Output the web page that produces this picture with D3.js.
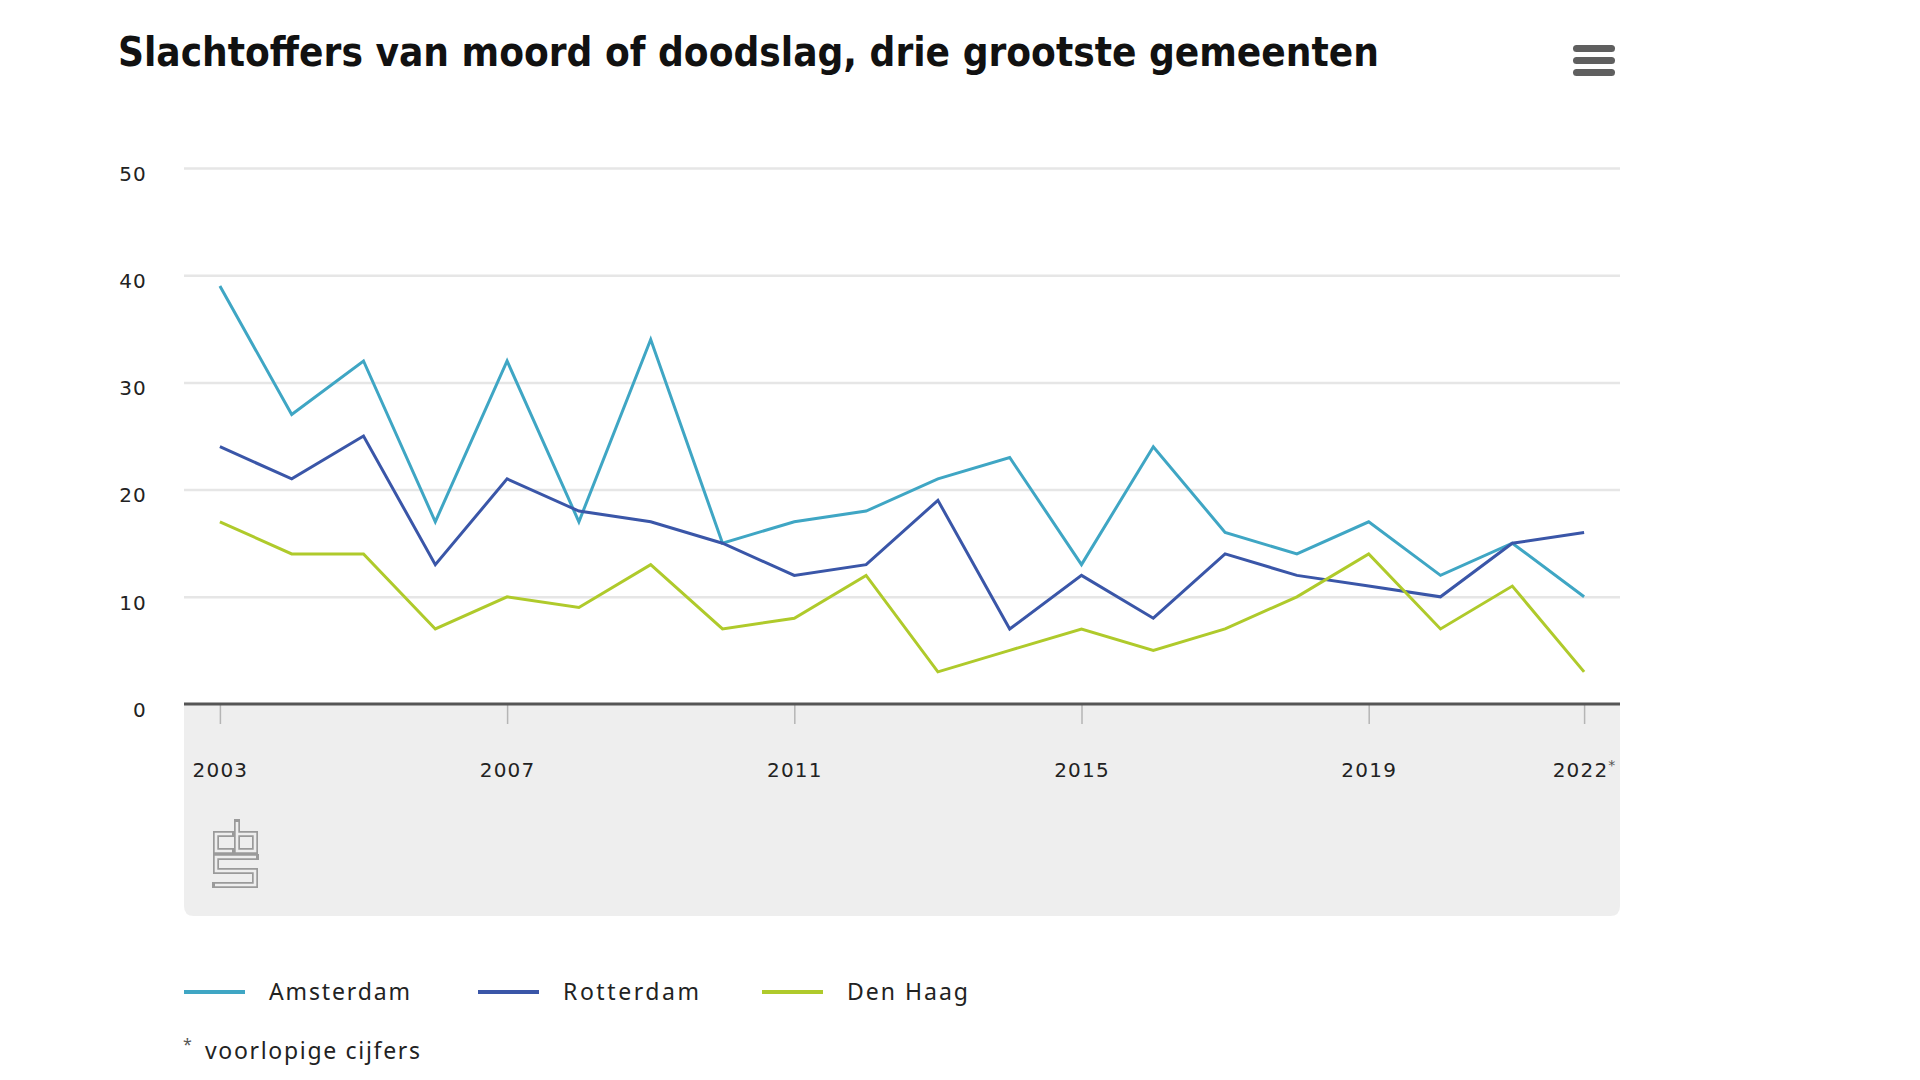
<!DOCTYPE html>
<html>
<head>
<meta charset="utf-8">
<script src="https://cdn.jsdelivr.net/npm/d3@7"></script>
<style>
  html, body { margin: 0; padding: 0; background: #ffffff; }
  svg { display: block; }
</style>
</head>
<body>
<svg id="chart" width="1920" height="1080"></svg>
<script>
// ---- data ----
const years = ["2003","2004","2005","2006","2007","2008","2009","2010","2011","2012",
               "2013","2014","2015","2016","2017","2018","2019","2020","2021","2022"];
const amsterdam = [39,27,32,17,32,17,34,15,17,18,21,23,13,24,16,14,17,12,15,10];
const rotterdam = [24,21,25,13,21,18,17,15,12,13,19,7,12,8,14,12,11,10,15,16];
const denHaag   = [17,14,14,7,10,9,13,7,8,12,3,5,7,5,7,10,14,7,11,3];
const seriesNames = ["Amsterdam","Rotterdam","Den Haag"];
const seriesColors = ["#3fa6c4","#3a56a8","#afca2b"];
const yTicks = [0,10,20,30,40,50];
const xTickLabels = ["2003","2007","2011","2015","2019","2022"];
const chartTitle = "Slachtoffers van moord of doodslag, drie grootste gemeenten";
const footnote = "voorlopige cijfers";

(function () {
const series = [amsterdam, rotterdam, denHaag];

const svg = d3.select("#chart");
const pLeft = 184, pRight = 1620, pTop = 168, pBottom = 704;
const boxBottom = 916;
const font = "'DejaVu Sans', sans-serif";
const font2 = "'Noto Sans', 'Open Sans', sans-serif";

const x = d3.scalePoint().domain(years).range([pLeft, pRight]).padding(0.5);
const y = d3.scaleLinear().domain([0, 50]).range([pBottom, pTop]);

// title
svg.append("text")
  .attr("x", 118).attr("y", 66)
  .attr("font-family", "'DejaVu Sans Condensed','Liberation Sans Narrow','DejaVu Sans',sans-serif")
  .attr("font-stretch", "condensed")
  .attr("font-weight", "bold")
  .attr("font-size", 40)
  .attr("fill", "#111")
  .attr("textLength", 1261)
  .attr("lengthAdjust", "spacingAndGlyphs")
  .text(chartTitle);

// menu icon
[45, 57, 69].forEach(yy => {
  svg.append("rect").attr("x", 1573).attr("y", yy).attr("width", 42).attr("height", 7)
    .attr("rx", 3.5).attr("fill", "#5f5f5f");
});

// gray x-axis area box
const r = 10;
svg.append("path")
  .attr("d", `M${pLeft},${pBottom} H${pRight} V${boxBottom - r} Q${pRight},${boxBottom} ${pRight - r},${boxBottom} H${pLeft + r} Q${pLeft},${boxBottom} ${pLeft},${boxBottom - r} Z`)
  .attr("fill", "#eeeeee");

// gridlines + y labels
const yAxis = d3.axisLeft(y).tickValues(yTicks).tickSize(-(pRight - pLeft)).tickFormat(d3.format("d"));
const gy = svg.append("g").attr("transform", `translate(${pLeft},0)`).call(yAxis);
gy.select(".domain").remove();
gy.selectAll(".tick line").attr("stroke", "#e6e6e6").attr("stroke-width", 2.5)
  .filter(d => d === 0).remove();
gy.selectAll(".tick text")
  .attr("x", -37).attr("y", 5).attr("dy", "0.36em")
  .attr("font-family", font).attr("font-size", 20).attr("fill", "#222")
  .attr("letter-spacing", 1.2);

// x axis
const xAxis = d3.axisBottom(x).tickValues(xTickLabels).tickSize(20).tickFormat(d => d);
const gx = svg.append("g").attr("transform", `translate(0,${pBottom})`).call(xAxis);
gx.select(".domain").remove();
gx.selectAll(".tick line").attr("stroke", "#b5b5b5").attr("stroke-width", 1.5);
gx.selectAll(".tick text").attr("y", 66).attr("dy", "0.36em")
  .attr("font-family", font).attr("font-size", 20).attr("fill", "#222")
  .attr("letter-spacing", 1.2)
  .text(d => d);
gx.selectAll(".tick").filter(d => d === "2022").select("text")
  .append("tspan").attr("font-size", 14).attr("dy", "-0.55em").attr("fill", "#555").text("*");

// baseline
svg.append("line").attr("x1", pLeft).attr("x2", pRight).attr("y1", y(0)).attr("y2", y(0))
  .attr("stroke", "#555").attr("stroke-width", 3);

// lines
const line = d3.line().x((d, i) => x(years[i])).y(d => y(d));
series.forEach((s, k) => {
  svg.append("path").datum(s).attr("d", line)
    .attr("fill", "none").attr("stroke", seriesColors[k]).attr("stroke-width", 3)
    .attr("stroke-linejoin", "miter");
});

// cbs logo
const logo = svg.append("g").attr("transform", "translate(213,820)");
const logoPaths = [
  "M19,14 H3 V31 H19",
  "M24,2 V31 H42 V14 H24",
  "M43,37 H3 V51 H42 V65 H2"
];
logoPaths.forEach(p => logo.append("path").attr("d", p).attr("fill", "none")
  .attr("stroke", "#9a9a9a").attr("stroke-width", 6).attr("stroke-linecap", "square"));
logoPaths.forEach(p => logo.append("path").attr("d", p).attr("fill", "none")
  .attr("stroke", "#eeeeee").attr("stroke-width", 2.6).attr("stroke-linecap", "butt"));

// legend
const legendX = [184, 478, 762];
const legendW = [141, 136, 121];
seriesNames.forEach((n, k) => {
  svg.append("line").attr("x1", legendX[k]).attr("x2", legendX[k] + 61)
    .attr("y1", 992).attr("y2", 992).attr("stroke", seriesColors[k]).attr("stroke-width", 4);
  svg.append("text").attr("x", legendX[k] + 85).attr("y", 1000)
    .attr("font-family", font2).attr("font-size", 23).attr("fill", "#222")
    .attr("textLength", legendW[k]).attr("lengthAdjust", "spacing")
    .text(n);
});

// footnote
svg.append("text").attr("x", 183).attr("y", 1050)
  .attr("font-family", font2).attr("font-size", 16).attr("fill", "#555").text("*");
svg.append("text").attr("x", 205).attr("y", 1059)
  .attr("font-family", font2).attr("font-size", 23).attr("fill", "#222")
  .attr("textLength", 215).attr("lengthAdjust", "spacing")
  .text(footnote);
})();
</script>
</body>
</html>
